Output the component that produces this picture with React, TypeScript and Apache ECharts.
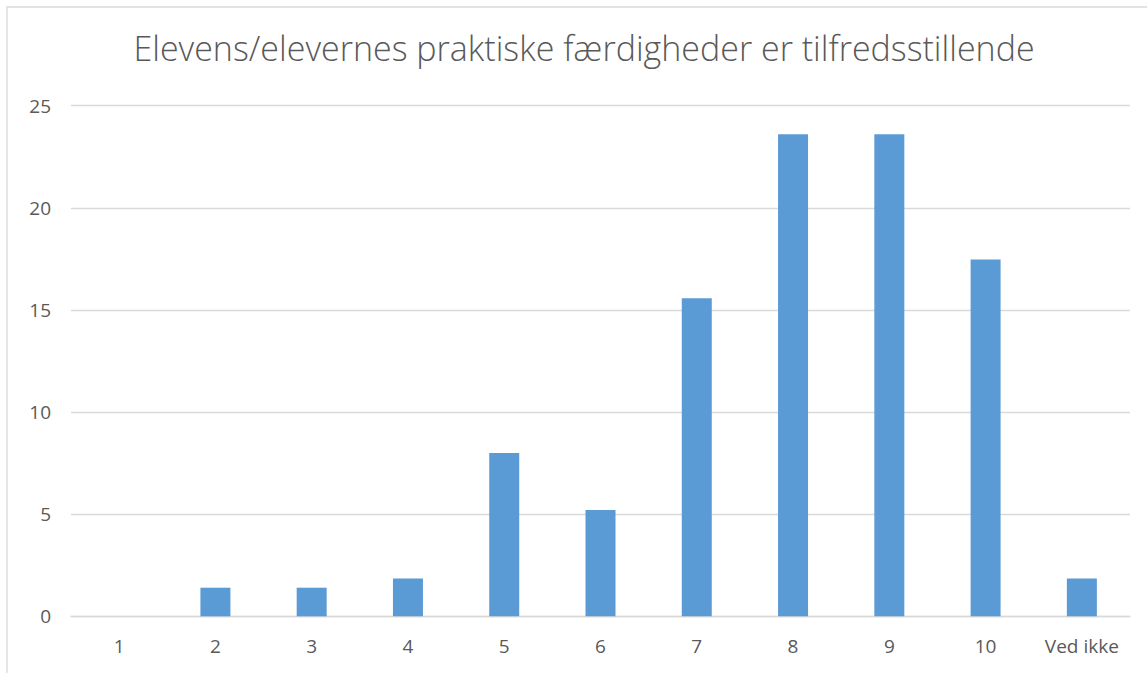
import React, { useEffect, useRef } from "react";
import * as echarts from "echarts";

const titleText = "Elevens/elevernes praktiske færdigheder er tilfredsstillende";
const categories = ["1", "2", "3", "4", "5", "6", "7", "8", "9", "10", "Ved ikke"];
const values = [0, 1.4, 1.4, 1.85, 8.0, 5.2, 15.57, 23.6, 23.6, 17.47, 1.85];
const yTicks = { min: 0, max: 25, interval: 5 };

export default function App() {
  const ref = useRef<HTMLDivElement>(null);
  useEffect(() => {
    if (!ref.current) return;
    const chart = echarts.init(ref.current, undefined, { renderer: "svg" });
    chart.setOption({
      animation: false,
      backgroundColor: "#ffffff",
      textStyle: { fontFamily: "Open Sans" },
      graphic: [
        {
          type: "rect",
          shape: { x: 7, y: 7, width: 1300, height: 900 },
          style: { fill: "none", stroke: "#d9d9d9", lineWidth: 1.3 },
          silent: true,
          z: -1,
        },
      ],
      title: {
        text: titleText,
        left: 579,
        textAlign: "center",
        top: 26,
        textStyle: {
          fontFamily: "Open Sans",
          fontWeight: 300,
          fontSize: 34,
          color: "#595959",
        },
      },
      grid: { left: 71, right: 17, top: 105.7, bottom: 56.7, containLabel: false },
      xAxis: {
        type: "category",
        data: categories,
        axisLine: { show: true, lineStyle: { color: "#d9d9d9", width: 1.3 } },
        axisTick: { show: false },
        axisLabel: { color: "#595959", fontSize: 19, margin: 20, fontFamily: "Open Sans" },
      },
      yAxis: {
        type: "value",
        min: yTicks.min,
        max: yTicks.max,
        interval: yTicks.interval,
        axisLine: { show: false },
        axisTick: { show: false },
        splitLine: { lineStyle: { color: "#d9d9d9", width: 1.3 } },
        axisLabel: { color: "#595959", fontSize: 19, margin: 20, fontFamily: "Open Sans" },
      },
      series: [
        {
          type: "bar",
          data: values,
          barWidth: 30,
          itemStyle: { color: "#5b9bd5" },
        },
      ],
    });
    return () => chart.dispose();
  }, []);
  return (
    <div
      ref={ref}
      style={{ position: "absolute", left: 0, top: 0, width: 1147, height: 673 }}
    />
  );
}
